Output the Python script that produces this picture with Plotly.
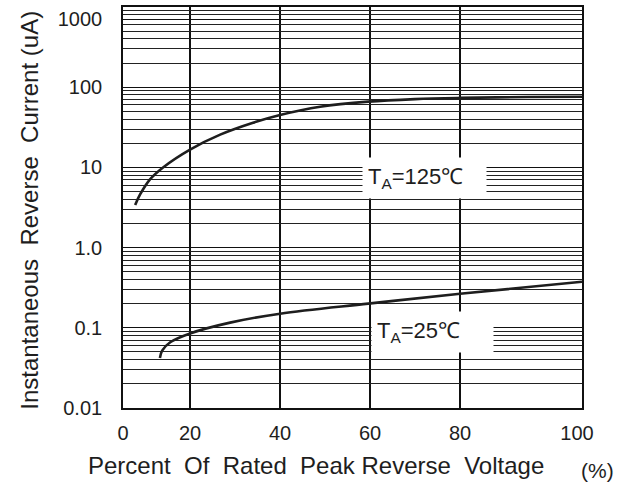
import plotly.graph_objects as go

# ---- data ----
x_125 = [7.8, 8.9, 11.1, 14.0, 20.0, 26.7, 34.0, 40.0, 48.9, 59.6, 70.0, 80.0, 95.0, 107.1]
y_125 = [3.4, 4.6, 7.1, 10.0, 16.7, 25.6, 36.0, 45.0, 57.0, 66.0, 71.0, 73.5, 75.5, 76.0]

x_25 = [13.3, 13.8, 15.6, 20.0, 28.9, 40.0, 59.6, 80.0, 107.1]
y_25 = [0.042, 0.052, 0.066, 0.085, 0.116, 0.150, 0.200, 0.266, 0.375]

x_tick_vals = [5.1, 20, 40, 60, 80, 106]
x_tick_text = ["0", "20", "40", "60", "80", "100"]
x_grid_vals = [20, 40, 60, 80]

y_tick_vals = [0.01, 0.1, 1, 10, 100, 700]
y_tick_text = ["0.01", "0.1", "1.0", "10", "100", "1000"]
y_minor_vals = [m * 10 ** e for e in range(-2, 3) for m in range(2, 10)]

label_125 = "T<sub>A</sub>=125\u2103"
label_25 = "T<sub>A</sub>=25\u2103"

FONT = "Liberation Sans, Arial, sans-serif"
INK = "#1e1e1e"

fig = go.Figure()
fig.add_trace(go.Scatter(x=x_125, y=y_125, mode="lines",
                         line=dict(color=INK, width=2.6, shape="spline", smoothing=1.0),
                         showlegend=False))
fig.add_trace(go.Scatter(x=x_25, y=y_25, mode="lines",
                         line=dict(color=INK, width=2.6, shape="spline", smoothing=1.0),
                         showlegend=False))

fig.update_xaxes(
    range=[5.1, 107.1],
    tickmode="array", tickvals=x_tick_vals, ticktext=x_tick_text,
    showgrid=False, zeroline=False,
    showline=True, linecolor="#111", linewidth=1.6, mirror=True,
    ticks="", ticklabelstandoff=6,
    tickfont=dict(family=FONT, size=20, color=INK),
    minor=dict(tickvals=x_grid_vals, showgrid=True, gridcolor="#111", gridwidth=1.8, ticks=""),
)
fig.update_yaxes(
    type="log", range=[-2, 3],
    tickmode="array", tickvals=y_tick_vals, ticktext=y_tick_text,
    showgrid=True, gridcolor="#111", gridwidth=1.4, zeroline=False,
    showline=True, linecolor="#111", linewidth=1.6, mirror=True,
    ticks="", ticklabelstandoff=15,
    tickfont=dict(family=FONT, size=20, color=INK),
    minor=dict(tickvals=y_minor_vals, showgrid=True, gridcolor="#222", gridwidth=1.3, ticks=""),
)

annos = [
    dict(x=72.1, y=0.862, xref="x", yref="y", text=label_125, showarrow=False,
         bgcolor="white", width=113, height=30, borderpad=5, align="left",
         font=dict(family=FONT, size=22, color=INK)),
    dict(x=73.9, y=-1.058, xref="x", yref="y", text=label_25, showarrow=False,
         bgcolor="white", width=111, height=30, borderpad=5, align="left",
         font=dict(family=FONT, size=22, color=INK)),
    dict(x=0.42, y=-0.143, xref="paper", yref="paper",
         text="Percent\u00a0\u00a0Of\u00a0\u00a0Rated\u00a0\u00a0Peak Reverse\u00a0\u00a0Voltage",
         showarrow=False, xanchor="center", yanchor="middle",
         font=dict(family=FONT, size=24, color=INK)),
    dict(x=1.033, y=-0.157, xref="paper", yref="paper", text="(%)",
         showarrow=False, xanchor="center", yanchor="middle",
         font=dict(family=FONT, size=21, color=INK)),
    dict(x=-0.203, y=0.494, xref="paper", yref="paper",
         text="Instantaneous\u00a0\u00a0Reverse\u00a0\u00a0Current (uA)",
         showarrow=False, textangle=-90, xanchor="center", yanchor="middle",
         font=dict(family=FONT, size=24, color=INK)),
]

fig.update_layout(
    width=634, height=484,
    margin=dict(l=123, r=52, t=5, b=76),
    paper_bgcolor="white", plot_bgcolor="white",
    annotations=annos,
    showlegend=False,
)

fig.write_html("out.html", config={"displayModeBar": False},
               post_script="document.body.style.margin='0px';")
